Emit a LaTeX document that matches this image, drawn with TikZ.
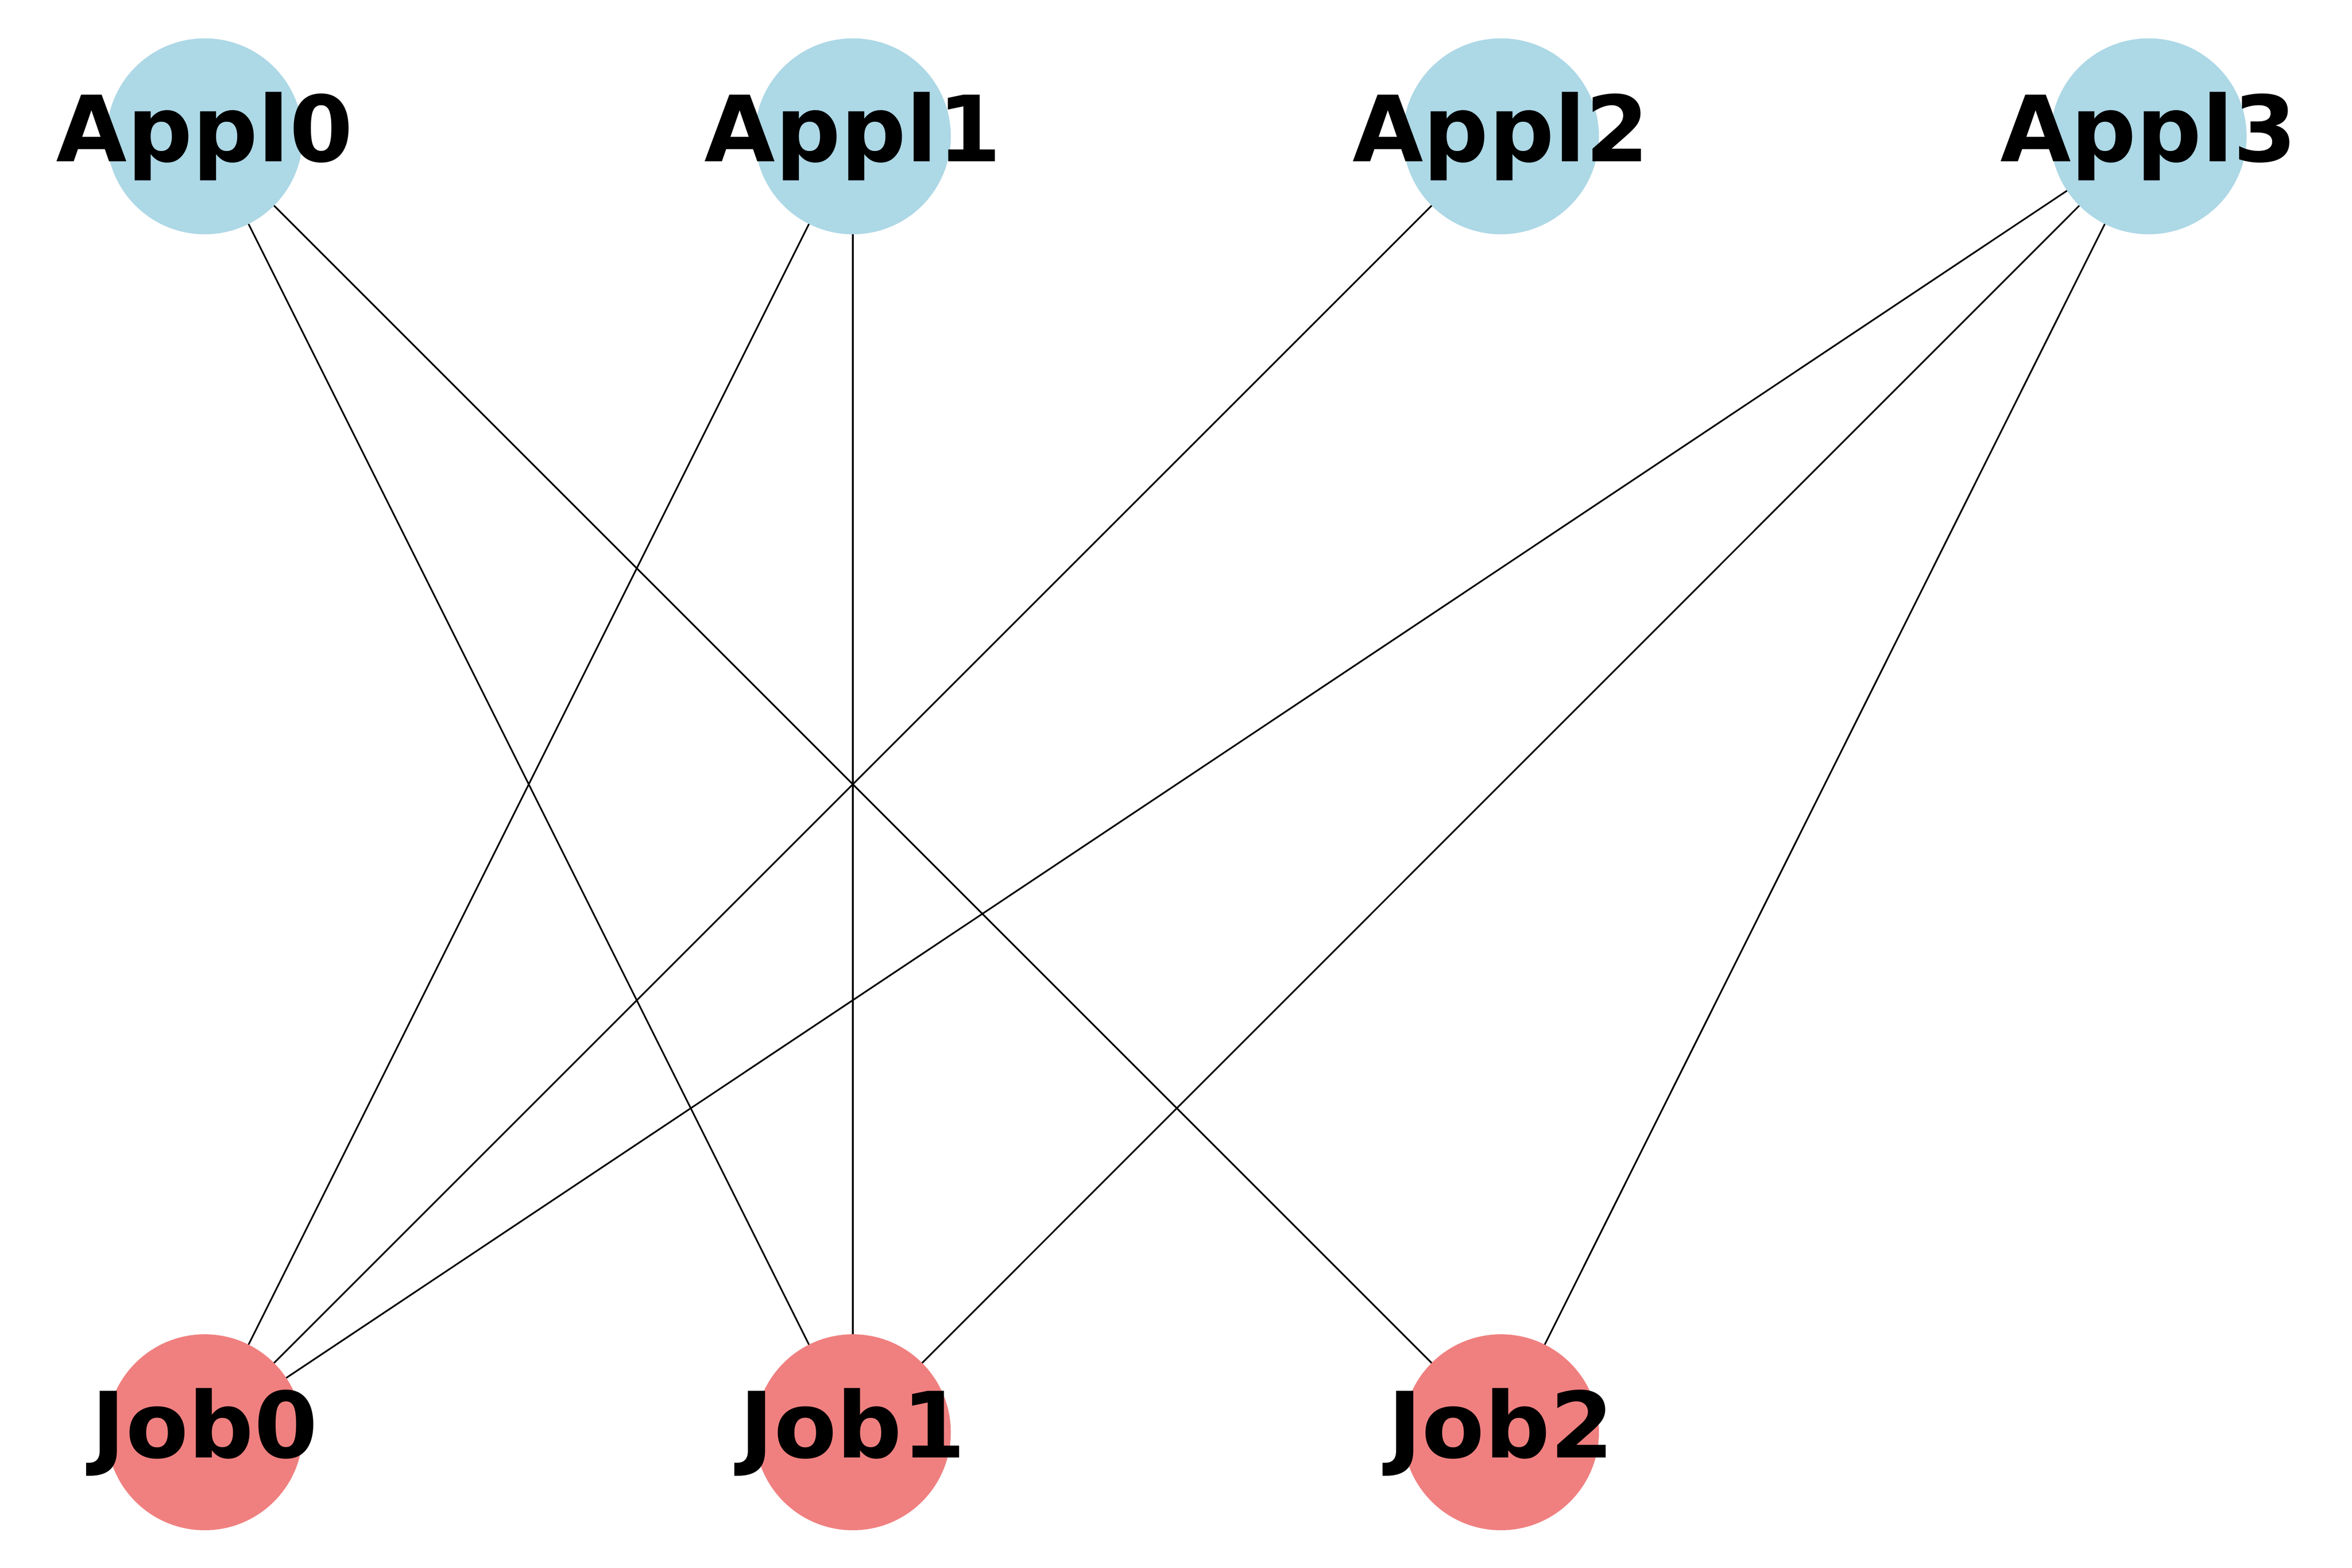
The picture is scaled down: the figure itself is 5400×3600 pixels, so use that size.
\documentclass[tikz,border=0pt]{standalone}
\usepackage{fontspec}
\setmainfont{DejaVu Sans}
\pgfdeclarelayer{bg}
\pgfsetlayers{bg,main}
\definecolor{appl}{RGB}{173,216,230}
\definecolor{job}{RGB}{240,128,128}
\begin{document}
\begin{tikzpicture}[x=0.1pt,y=-0.1pt,
  vert/.style={circle,draw=none,minimum size=45pt,inner sep=0pt},
  applnode/.style={vert,fill=appl},
  jobnode/.style={vert,fill=job},
  lbl/.style={inner sep=0pt,font=\fontsize{21}{25}\selectfont\bfseries},
  edge/.style={draw=black,line width=0.38pt}]
\useasboundingbox (0,0) rectangle (5400,3600);
\node[applnode] (a0) at (470,313) {};
\node[applnode] (a1) at (1958,313) {};
\node[applnode] (a2) at (3446,313) {};
\node[applnode] (a3) at (4933,313) {};
\node[jobnode] (j0) at (470,3289) {};
\node[jobnode] (j1) at (1958,3289) {};
\node[jobnode] (j2) at (3446,3289) {};
\node[lbl] (a0t) at (a0.center) {Appl0};
\node[lbl] (a1t) at (a1.center) {Appl1};
\node[lbl] (a2t) at (a2.center) {Appl2};
\node[lbl] (a3t) at (a3.center) {Appl3};
\node[lbl] (j0t) at (j0.center) {Job0};
\node[lbl] (j1t) at (j1.center) {Job1};
\node[lbl] (j2t) at (j2.center) {Job2};
\begin{pgfonlayer}{bg}
\draw[edge] (a0.center) -- (j1.center);
\draw[edge] (a0.center) -- (j2.center);
\draw[edge] (a1.center) -- (j0.center);
\draw[edge] (a1.center) -- (j1.center);
\draw[edge] (a2.center) -- (j0.center);
\draw[edge] (a3.center) -- (j0.center);
\draw[edge] (a3.center) -- (j1.center);
\draw[edge] (a3.center) -- (j2.center);
\end{pgfonlayer}
\end{tikzpicture}
\end{document}
